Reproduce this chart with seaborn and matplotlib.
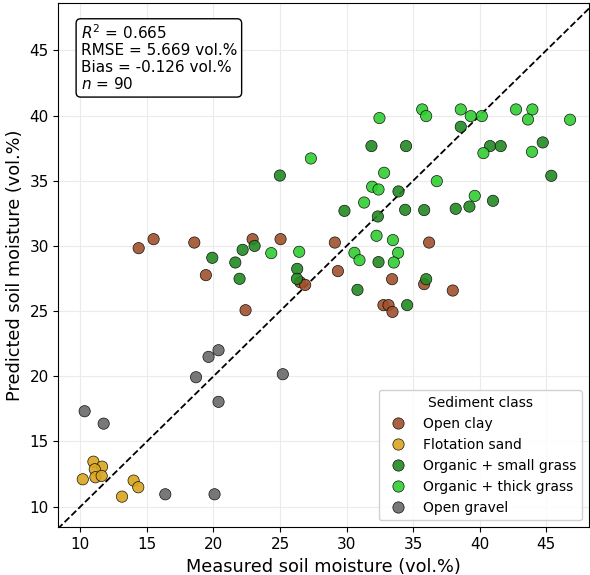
import numpy as np
import pandas as pd
import matplotlib
matplotlib.use("Agg")
import matplotlib.pyplot as plt
import seaborn as sns

# measured / predicted soil moisture per sediment class (vol.%)
clay_x = [14.38, 15.5, 18.56, 19.43, 22.94, 25.04, 22.41, 26.52, 26.89, 29.12,
          29.35, 33.42, 32.77, 33.15, 33.45, 36.2, 35.83, 37.98]
clay_y = [29.83, 30.52, 30.26, 27.76, 30.52, 30.52, 25.07, 27.22, 27.01, 30.26,
          28.07, 27.45, 25.46, 25.46, 24.94, 30.26, 27.07, 26.58]

sand_x = [10.98, 11.63, 11.08, 10.18, 11.13, 11.6, 14.0, 14.35, 13.13]
sand_y = [13.45, 13.07, 12.87, 12.10, 12.26, 12.36, 12.0, 11.49, 10.77]

small_x = [24.99, 19.91, 22.19, 23.09, 21.64, 21.96, 26.29, 26.27, 29.84, 32.35,
           34.4, 35.83, 32.4, 30.82, 34.55, 35.98, 38.2, 39.23, 41.0, 31.87,
           34.47, 33.9, 38.58, 40.78, 41.58, 44.74, 45.38]
small_y = [35.4, 29.09, 29.70, 30.0, 28.73, 27.48, 28.24, 27.48, 32.69, 32.26,
           32.77, 32.75, 28.76, 26.63, 25.46, 27.45, 32.85, 33.02, 33.46, 37.66,
           37.66, 34.18, 39.14, 37.66, 37.66, 37.94, 35.38]

thick_x = [24.34, 26.44, 27.32, 32.47, 35.68, 35.98, 32.82, 31.92, 32.4, 36.78,
           31.32, 32.25, 33.48, 30.59, 30.97, 33.87, 33.55, 38.58, 39.33, 40.16,
           42.73, 43.96, 43.63, 46.79, 40.28, 43.93, 39.63]
thick_y = [29.45, 29.55, 36.71, 39.81, 40.47, 39.96, 35.61, 34.54, 34.33, 34.97,
           33.33, 30.78, 30.45, 29.47, 28.91, 29.47, 28.73, 40.47, 39.96, 39.96,
           40.47, 40.47, 39.7, 39.68, 37.12, 37.22, 33.84]

gravel_x = [10.32, 11.75, 18.69, 19.63, 20.38, 20.38, 25.21, 16.38, 20.08]
gravel_y = [17.32, 16.37, 19.93, 21.49, 22.0, 18.04, 20.16, 10.95, 10.95]

classes = ["Open clay", "Flotation sand", "Organic + small grass",
           "Organic + thick grass", "Open gravel"]
colors = ["#a0522d", "#daa520", "#228b22", "#32cd32", "#696969"]

parts = []
for name, xs, ys in zip(classes,
                        [clay_x, sand_x, small_x, thick_x, gravel_x],
                        [clay_y, sand_y, small_y, thick_y, gravel_y]):
    parts.append(pd.DataFrame({"measured": xs, "predicted": ys, "cls": name}))
df = pd.concat(parts, ignore_index=True)

sns.set_style("ticks")
plt.rcParams["font.family"] = ["DejaVu Sans"]
plt.rcParams["text.color"] = "black"
plt.rcParams["axes.labelcolor"] = "black"
plt.rcParams["xtick.color"] = "black"
plt.rcParams["ytick.color"] = "black"

fig, ax = plt.subplots(figsize=(5.9, 5.75), dpi=100)
fig.subplots_adjust(left=0.099, right=0.998, bottom=0.083, top=0.994)

ax.plot([8.3, 48.7], [8.3, 48.7], "k--", lw=1.3, zorder=1)

sns.scatterplot(data=df, x="measured", y="predicted", hue="cls",
                hue_order=classes, palette=dict(zip(classes, colors)),
                s=66, alpha=0.9, edgecolor="black", linewidth=0.5, ax=ax, zorder=3)

ax.set_xlim(8.35, 48.2)
ax.set_ylim(8.42, 48.6)
ax.set_xticks([10, 15, 20, 25, 30, 35, 40, 45])
ax.set_yticks([10, 15, 20, 25, 30, 35, 40, 45])
ax.grid(True, color="#ebebeb", lw=0.8, zorder=0)
ax.set_axisbelow(True)
ax.tick_params(labelsize=11)
for sp in ax.spines.values():
    sp.set_color("black")
ax.set_xlabel("Measured soil moisture (vol.%)", fontsize=12.8)
ax.set_ylabel("Predicted soil moisture (vol.%)", fontsize=12.8)

stats = "$R^2$ = 0.665\nRMSE = 5.669 vol.%\nBias = -0.126 vol.%\n$n$ = 90"
ax.text(0.042, 0.962, stats, transform=ax.transAxes, fontsize=11, va="top",
        linespacing=1.12,
        bbox=dict(boxstyle="round,pad=0.3", facecolor="white", edgecolor="black"))

handles, labels = ax.get_legend_handles_labels()
ax.legend(handles, labels, title="Sediment class", loc="lower right",
          fontsize=10, title_fontsize=10, framealpha=0.9)

plt.savefig("out.png", dpi=100)
